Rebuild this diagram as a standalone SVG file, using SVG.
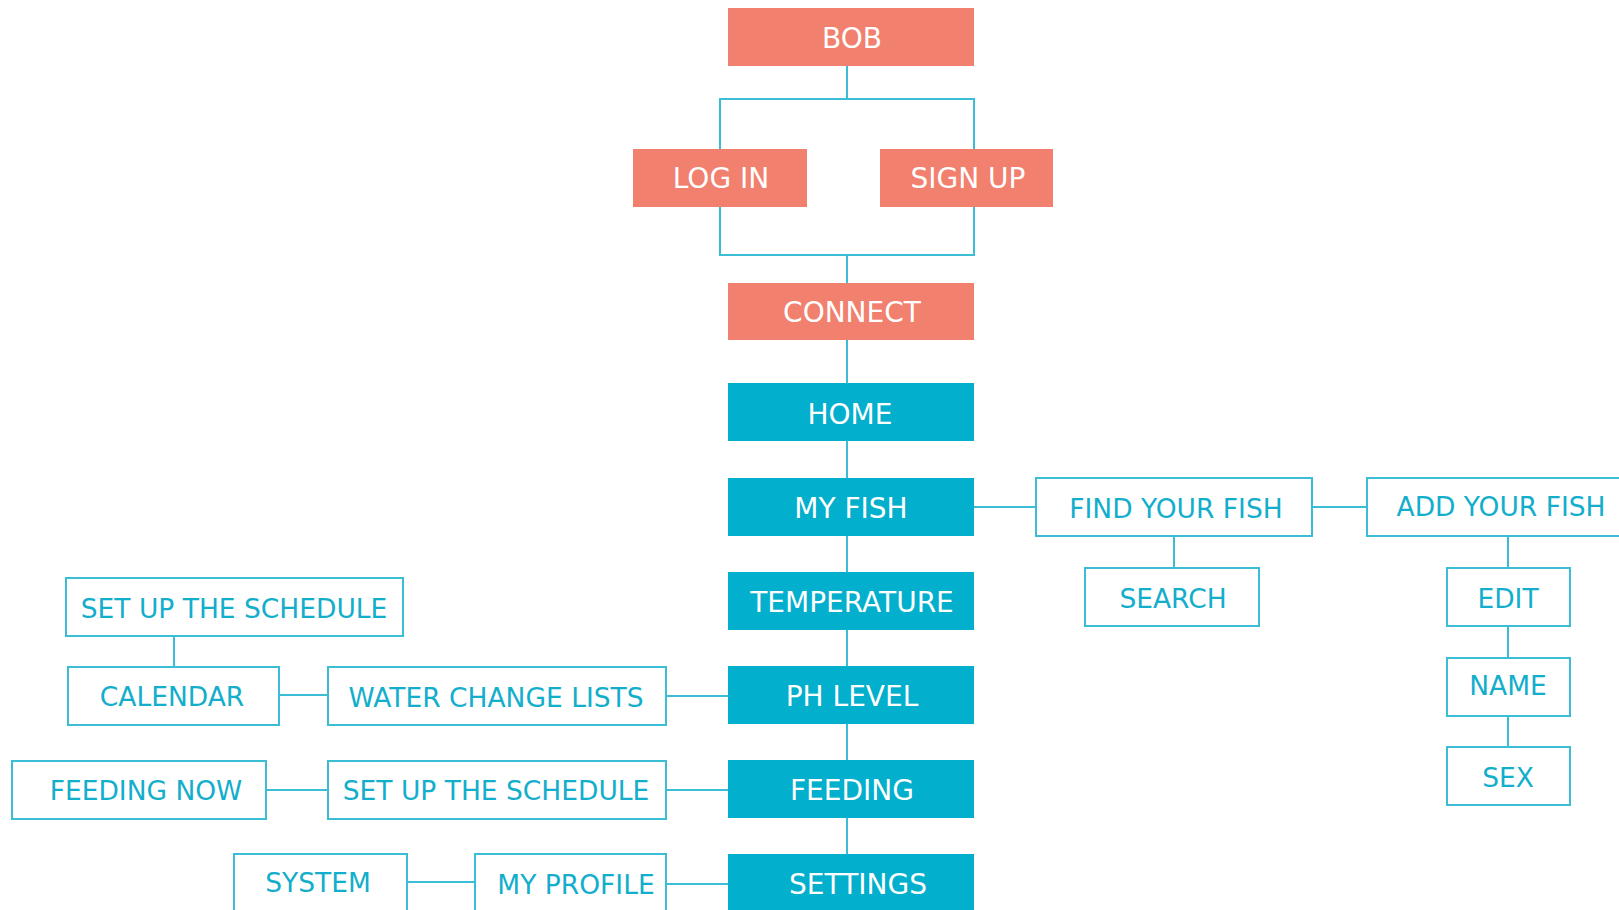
<svg xmlns="http://www.w3.org/2000/svg" width="1619" height="910" viewBox="0 0 1619 910">
<style>
.bg{fill:#ffffff}
.salmon rect{fill:#F2806E}
.teal rect{fill:#02AFCC}
.out rect{fill:#ffffff;stroke:#3BBDD6;stroke-width:2}
.salmon text,.teal text{fill:#ffffff;font-family:"DejaVu Sans",sans-serif;font-size:28px;text-anchor:middle}
.out text{fill:#12AECB;font-family:"DejaVu Sans",sans-serif;font-size:26.5px;text-anchor:middle}
#connectors path{fill:none;stroke:#3BBDD6;stroke-width:2}
</style>
<rect class="bg" x="0" y="0" width="1619" height="910"/>
<g id="connectors">
<path d="M847 66V99M720 149V99H974V149"/>
<path d="M720 207V255H974V207M847 255V283"/>
<path d="M847 340V854"/>
<path d="M974 507H1036M1312 507H1367M1174 536V568M1508 536V568M1508 626V658M1508 716V747"/>
<path d="M174 636V667M279 695H328M666 696H728"/>
<path d="M266 790H328M666 790H728"/>
<path d="M407 882H475M666 884H728"/>
</g>
<g id="bob" class="salmon"><rect x="728" y="8" width="246" height="58"/><text x="852" y="48">BOB</text></g>
<g id="login" class="salmon"><rect x="633" y="149" width="174" height="58"/><text x="721" y="188">LOG IN</text></g>
<g id="signup" class="salmon"><rect x="880" y="149" width="173" height="58"/><text x="968" y="188">SIGN UP</text></g>
<g id="connect" class="salmon"><rect x="728" y="283" width="246" height="57"/><text x="852" y="322">CONNECT</text></g>
<g id="home" class="teal"><rect x="728" y="383" width="246" height="58"/><text x="850" y="424">HOME</text></g>
<g id="myfish" class="teal"><rect x="728" y="478" width="246" height="58"/><text x="851" y="518">MY FISH</text></g>
<g id="temperature" class="teal"><rect x="728" y="572" width="246" height="58"/><text x="852" y="612">TEMPERATURE</text></g>
<g id="phlevel" class="teal"><rect x="728" y="666" width="246" height="58"/><text x="852" y="706">PH LEVEL</text></g>
<g id="feeding" class="teal"><rect x="728" y="760" width="246" height="58"/><text x="852" y="800">FEEDING</text></g>
<g id="settings" class="teal"><rect x="728" y="854" width="246" height="58"/><text x="858" y="894">SETTINGS</text></g>
<g id="findyourfish" class="out"><rect x="1036" y="478" width="276" height="58"/><text x="1176" y="518">FIND YOUR FISH</text></g>
<g id="addyourfish" class="out"><rect x="1367" y="478" width="268" height="58"/><text x="1501" y="516">ADD YOUR FISH</text></g>
<g id="search" class="out"><rect x="1085" y="568" width="174" height="58"/><text x="1173" y="608">SEARCH</text></g>
<g id="edit" class="out"><rect x="1447" y="568" width="123" height="58"/><text x="1508" y="608">EDIT</text></g>
<g id="name" class="out"><rect x="1447" y="658" width="123" height="58"/><text x="1508" y="695">NAME</text></g>
<g id="sex" class="out"><rect x="1447" y="747" width="123" height="58"/><text x="1508" y="787">SEX</text></g>
<g id="setupschedule1" class="out"><rect x="66" y="578" width="337" height="58"/><text x="234" y="618">SET UP THE SCHEDULE</text></g>
<g id="calendar" class="out"><rect x="68" y="667" width="211" height="58"/><text x="172" y="706">CALENDAR</text></g>
<g id="waterchangelists" class="out"><rect x="328" y="667" width="338" height="58"/><text x="496" y="707">WATER CHANGE LISTS</text></g>
<g id="feedingnow" class="out"><rect x="12" y="761" width="254" height="58"/><text x="146" y="800">FEEDING NOW</text></g>
<g id="setupschedule2" class="out"><rect x="328" y="761" width="338" height="58"/><text x="496" y="800">SET UP THE SCHEDULE</text></g>
<g id="system" class="out"><rect x="234" y="854" width="173" height="70"/><text x="318" y="892">SYSTEM</text></g>
<g id="myprofile" class="out"><rect x="475" y="854" width="191" height="70"/><text x="576" y="894">MY PROFILE</text></g>
</svg>
